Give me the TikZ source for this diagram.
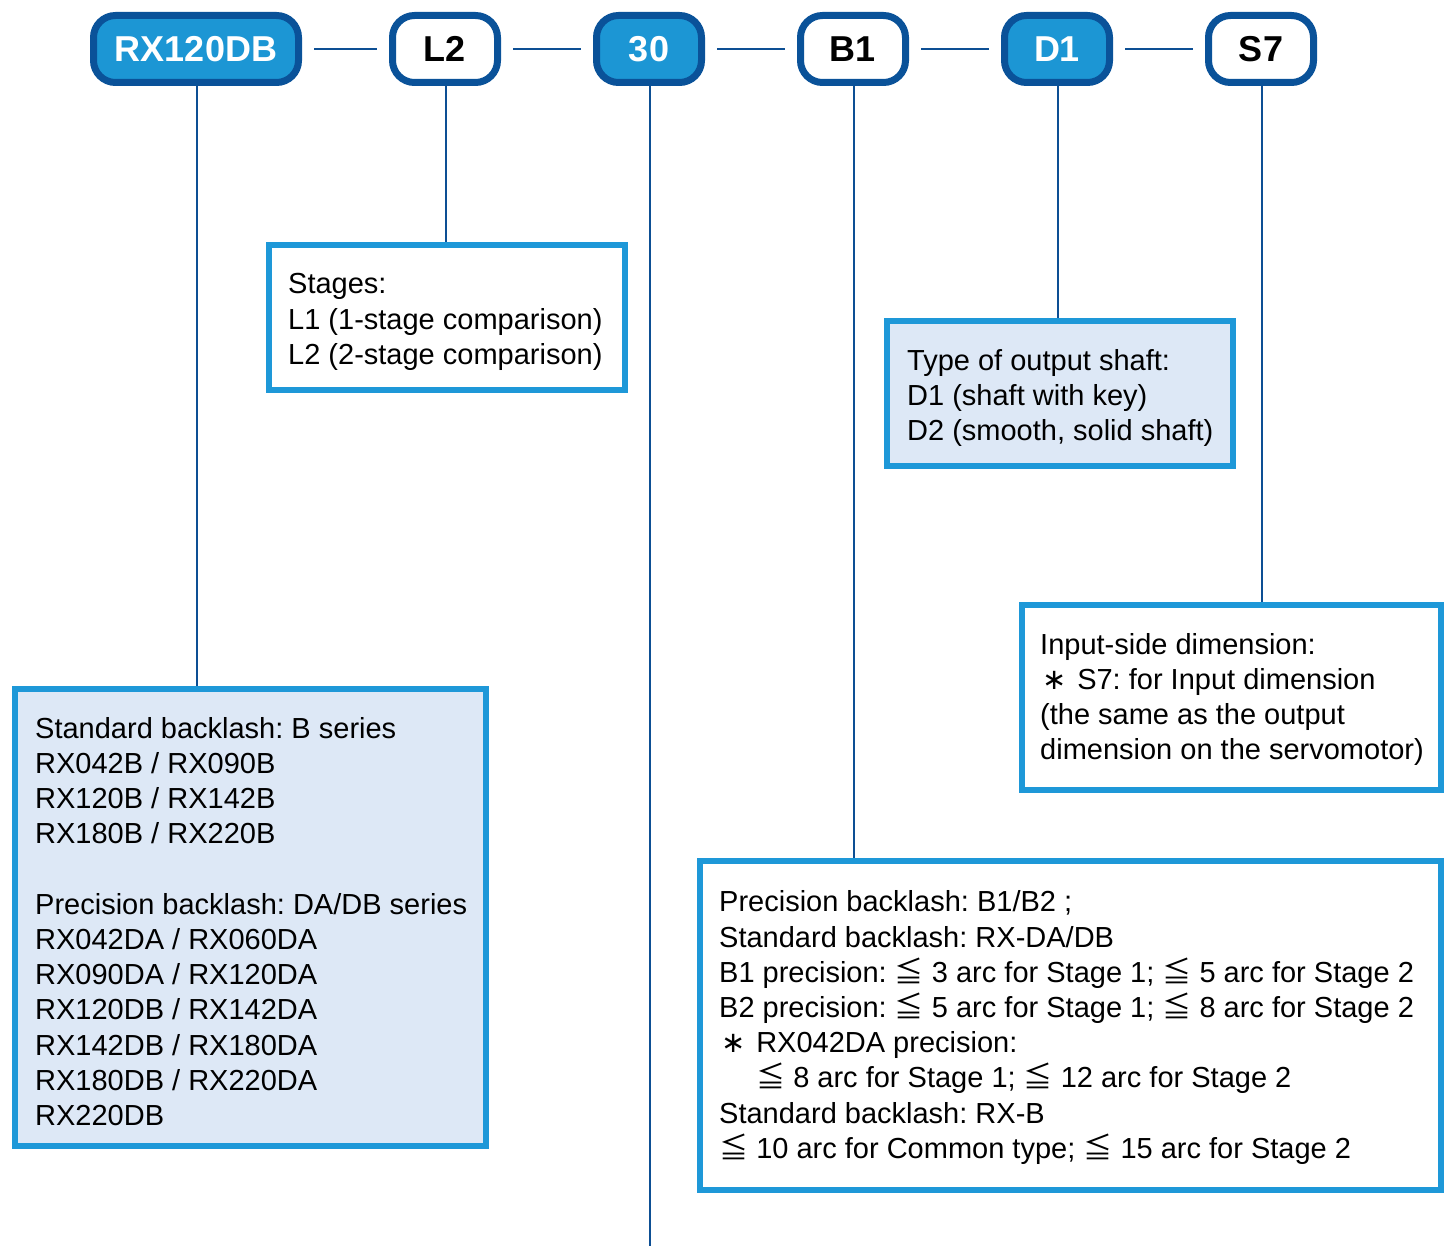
\documentclass[tikz,border=0pt]{standalone}
\usepackage{fontspec}
\setmainfont{Liberation Sans}
\newfontfamily\cjkfont{Noto Sans CJK SC}
\newfontfamily\dvfont{DejaVu Sans}
\newcommand\mylq{\makebox[1em][c]{\cjkfont ≦}}
\newcommand\myast{\makebox[1em][c]{\dvfont ∗}}
\definecolor{darkb}{HTML}{0A5299}
\definecolor{pillfill}{HTML}{1C96D4}
\definecolor{boxline}{HTML}{1E98D8}
\definecolor{boxfill}{HTML}{DDE8F6}
\definecolor{linkc}{HTML}{0D4F94}
\frenchspacing
\begin{document}
\begin{tikzpicture}[x=1pt,y=-1pt,
 pill/.style={draw=darkb, line width=7pt, rounded corners=22pt, minimum height=67pt, minimum width=105pt, inner sep=0pt, font=\fontsize{36}{40}\selectfont\bfseries},
 pillon/.style={pill, fill=pillfill, text=white},
 pilloff/.style={pill, fill=white, text=black},
 infobox/.style={draw=boxline, line width=6pt, inner sep=0pt},
 infotext/.style={anchor=west, inner sep=0pt, align=left, font=\frenchspacing\fontsize{29}{35.2}\selectfont},
 link/.style={draw=linkc, line width=2.6pt}]
\useasboundingbox[fill=white] (0,0) rectangle (1452,1246);
\coordinate (bot) at (0,1246);
% pills
\node[pillon, minimum width=205pt] (p1) at (196,49) {RX120DB};
\node[pilloff] (p2) at (445,49) {L2};
\node[pillon] (p3) at (649,49) {30};
\node[pilloff] (p4) at (853,49) {B1};
\node[pillon] (p5) at (1057,49) {D1};
\node[pilloff] (p6) at (1261,49) {S7};
% boxes
\node[infobox, fill=white, minimum width=356pt, minimum height=145pt] (stg) at (447,317.5) {};
\node[infotext] (stgt) at ([xshift=22pt,yshift=-4.5pt]stg.west) {Stages:\\L1 (1-stage comparison)\\L2 (2-stage comparison)};
\node[infobox, fill=boxfill, minimum width=346pt, minimum height=145pt] (shf) at (1060,393.5) {};
\node[infotext] (shft) at ([xshift=23pt,yshift=-4.5pt]shf.west) {Type of output shaft:\\D1 (shaft with key)\\D2 (smooth, solid shaft)};
\node[infobox, fill=white, minimum width=419pt, minimum height=185pt] (inp) at (1231.5,697.5) {};
\node[infotext] (inpt) at ([xshift=21pt,yshift=-2pt]inp.west) {Input-side dimension:\\\myast\ S7: for Input dimension\\(the same as the output\\dimension on the servomotor)};
\node[infobox, fill=boxfill, minimum width=471pt, minimum height=457pt] (lft) at (250.5,917.5) {};
\node[infotext] (lftt) at ([xshift=23pt,yshift=-4pt]lft.west) {Standard backlash: B series\\RX042B / RX090B\\RX120B / RX142B\\RX180B / RX220B\\[35.2pt]Precision backlash: DA/DB series\\RX042DA / RX060DA\\RX090DA / RX120DA\\RX120DB / RX142DA\\RX142DB / RX180DA\\RX180DB / RX220DA\\RX220DB};
\node[infobox, fill=white, minimum width=741pt, minimum height=329pt] (bkl) at (1070.5,1025.5) {};
\node[infotext] (bklt) at ([xshift=22pt,yshift=-2pt]bkl.west) {Precision backlash: B1/B2 ;\\Standard backlash: RX-DA/DB\\B1 precision: \mylq\ 3 arc for Stage 1; \mylq\ 5 arc for Stage 2\\B2 precision: \mylq\ 5 arc for Stage 1; \mylq\ 8 arc for Stage 2\\\myast\ RX042DA precision:\\\hspace*{37pt}\mylq\ 8 arc for Stage 1; \mylq\ 12 arc for Stage 2\\Standard backlash: RX-B\\\mylq\ 10 arc for Common type; \mylq\ 15 arc for Stage 2};
% links
\foreach \a/\b in {p1/p2,p2/p3,p3/p4,p4/p5,p5/p6}
  \draw[link, shorten <=12pt, shorten >=12pt] (\a.east) -- (\b.west);
\draw[link] ([xshift=1pt]p1.south) -- ([xshift=1pt]p1.south |- lft.north);
\draw[link] ([xshift=1pt]p2.south) -- ([xshift=1pt]p2.south |- stg.north);
\draw[link] ([xshift=1pt]p3.south) -- ([xshift=1pt]p3.south |- bot);
\draw[link] ([xshift=1pt]p4.south) -- ([xshift=1pt]p4.south |- bkl.north);
\draw[link] ([xshift=1pt]p5.south) -- ([xshift=1pt]p5.south |- shf.north);
\draw[link] ([xshift=1pt]p6.south) -- ([xshift=1pt]p6.south |- inp.north);
\end{tikzpicture}
\end{document}
